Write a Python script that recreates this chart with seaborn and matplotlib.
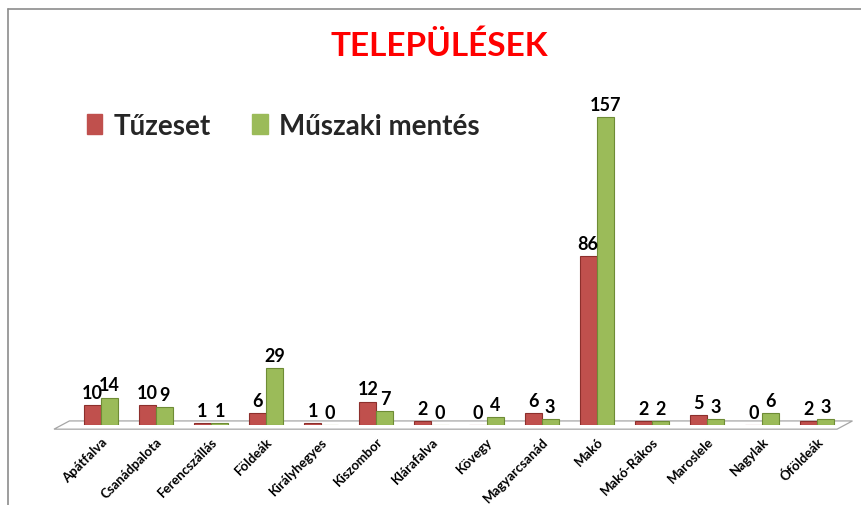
import matplotlib
matplotlib.use("Agg")
import matplotlib.pyplot as plt
import seaborn as sns
import pandas as pd
from matplotlib.lines import Line2D
from matplotlib.patches import Polygon, Patch
from matplotlib.transforms import offset_copy

categories = ["Apátfalva", "Csanádpalota", "Ferencszállás", "Földeák", "Királyhegyes",
              "Kiszombor", "Klárafalva", "Kövegy", "Magyarcsanád", "Makó",
              "Makó-Rákos", "Maroslele", "Nagylak", "Óföldeák"]
tuzeset = [10, 10, 1, 6, 1, 12, 2, 0, 6, 86, 2, 5, 0, 2]
muszaki = [14, 9, 1, 29, 0, 7, 0, 4, 3, 157, 2, 3, 6, 3]
series = ["Tűzeset", "Műszaki mentés"]
colors = ["#C0504D", "#9BBB59"]
edge_colors = ["#8C2F2C", "#6E8C35"]

df = pd.DataFrame({
    "Település": categories * 2,
    "Érték": tuzeset + muszaki,
    "Sorozat": [series[0]] * len(categories) + [series[1]] * len(categories),
})

sns.set_theme(style="white")
plt.rcParams["font.family"] = ["Lato", "DejaVu Sans"]

fig = plt.figure(figsize=(8.62, 5.06), dpi=100)
ax = fig.add_axes([0.085, 0.158, 0.895, 0.678])

sns.barplot(data=df, x="Település", y="Érték", hue="Sorozat", order=categories,
            hue_order=series, palette=colors, width=0.62, gap=0.0,
            ax=ax, legend=False, saturation=1)

for i, (cont, ec) in enumerate(zip(ax.containers, edge_colors)):
    for bar in cont:
        bar.set_edgecolor(ec)
        bar.set_linewidth(0.8)
    texts = ax.bar_label(cont, fmt="%d", padding=3, fontsize=13, fontweight="bold",
                         color="black")
    dx = -1.5 if i == 0 else 1.5
    for t in texts:
        t.set_transform(offset_copy(t.get_transform(), fig=fig, x=dx, y=0, units="points"))

ax.set_ylim(0, 175)
ax.set_xlim(-0.5, len(categories) - 0.5)
ax.set_xlabel("")
ax.set_ylabel("")
ax.set_yticks([])
for s in ax.spines.values():
    s.set_visible(False)
ax.tick_params(axis="x", length=0, pad=7)
ax.set_xticks(range(len(categories)))
ax.set_xticklabels(categories, rotation=45, ha="right", rotation_mode="anchor",
                   fontsize=9.5, fontweight="bold", color="black")

# perspective floor
floor = Polygon([(-0.025, -0.012), (0.99, -0.012), (1.01, 0.012), (-0.005, 0.012)],
                closed=True, transform=ax.transAxes, facecolor="white",
                edgecolor="#A6A6A6", linewidth=0.9, zorder=0.5, clip_on=False)
ax.add_patch(floor)

# title
fig.text(0.51, 0.91, "TELEPÜLÉSEK", color="#FF0000", fontsize=24,
         fontweight="bold", ha="center", va="center")

# legend
handles = [Patch(facecolor=c, edgecolor=c) for c in colors]
fig.legend(handles, series, loc="center left", bbox_to_anchor=(0.072, 0.75),
           ncol=2, frameon=False, handlelength=0.55, handleheight=0.75,
           handletextpad=0.4, columnspacing=1.5,
           prop={"size": 20, "weight": "bold", "family": ["Lato", "DejaVu Sans"]})

# outer chart border (top and left visible)
fig.add_artist(Line2D([8 / 862, 1.0], [1 - 10 / 506, 1 - 10 / 506],
                      transform=fig.transFigure, color="#8C8C8C", linewidth=1.2))
fig.add_artist(Line2D([8 / 862, 8 / 862], [0, 1 - 10 / 506],
                      transform=fig.transFigure, color="#8C8C8C", linewidth=1.2))

fig.savefig("out.png", dpi=100)
